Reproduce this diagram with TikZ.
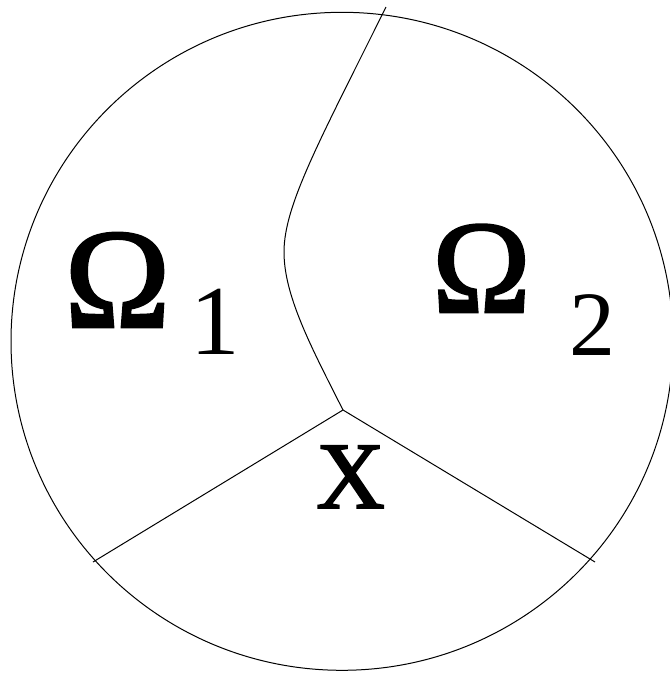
\documentclass[tikz,border=0pt]{standalone}
\usepackage{fontspec}
\setmainfont{Liberation Serif}
\newfontfamily\heavyserif[FakeBold=2]{Liberation Serif}
\begin{document}
\begin{tikzpicture}[x=1pt,y=-1pt,
  edge/.style={line width=1pt,black},
  lbl/.style={inner sep=0pt,outer sep=0pt,anchor=base}]
\useasboundingbox (0,0) rectangle (670,673);
\coordinate (c) at (342,341.3);
\draw[edge] (c) ellipse [x radius=331, y radius=-329];
\coordinate (j) at (343,410);
\coordinate (tl) at (93,562);
\coordinate (tr) at (595,562);
\coordinate (tt) at (386,7);
\coordinate (m) at (284,252);
\draw[edge] (j) .. controls (310,345) and (284,295) .. (m)
  .. controls (284,205) and (320,140) .. (tt);
\draw[edge] (tl) -- (j) -- (tr);
\node[lbl,font=\heavyserif\fontsize{142}{142}\selectfont] (o1) at (117.5,327) {Ω};
\node[lbl,font=\fontsize{99}{99}\selectfont] (s1) at (215,354) {1};
\node[lbl,font=\heavyserif\fontsize{132}{132}\selectfont] (o2) at (481.5,312) {Ω};
\node[lbl,font=\fontsize{92}{92}\selectfont] (s2) at (592.5,355) {2};
\node[lbl,font=\heavyserif\fontsize{95}{95}\selectfont] (xx) at (350.5,508) {X};
\end{tikzpicture}
\end{document}
